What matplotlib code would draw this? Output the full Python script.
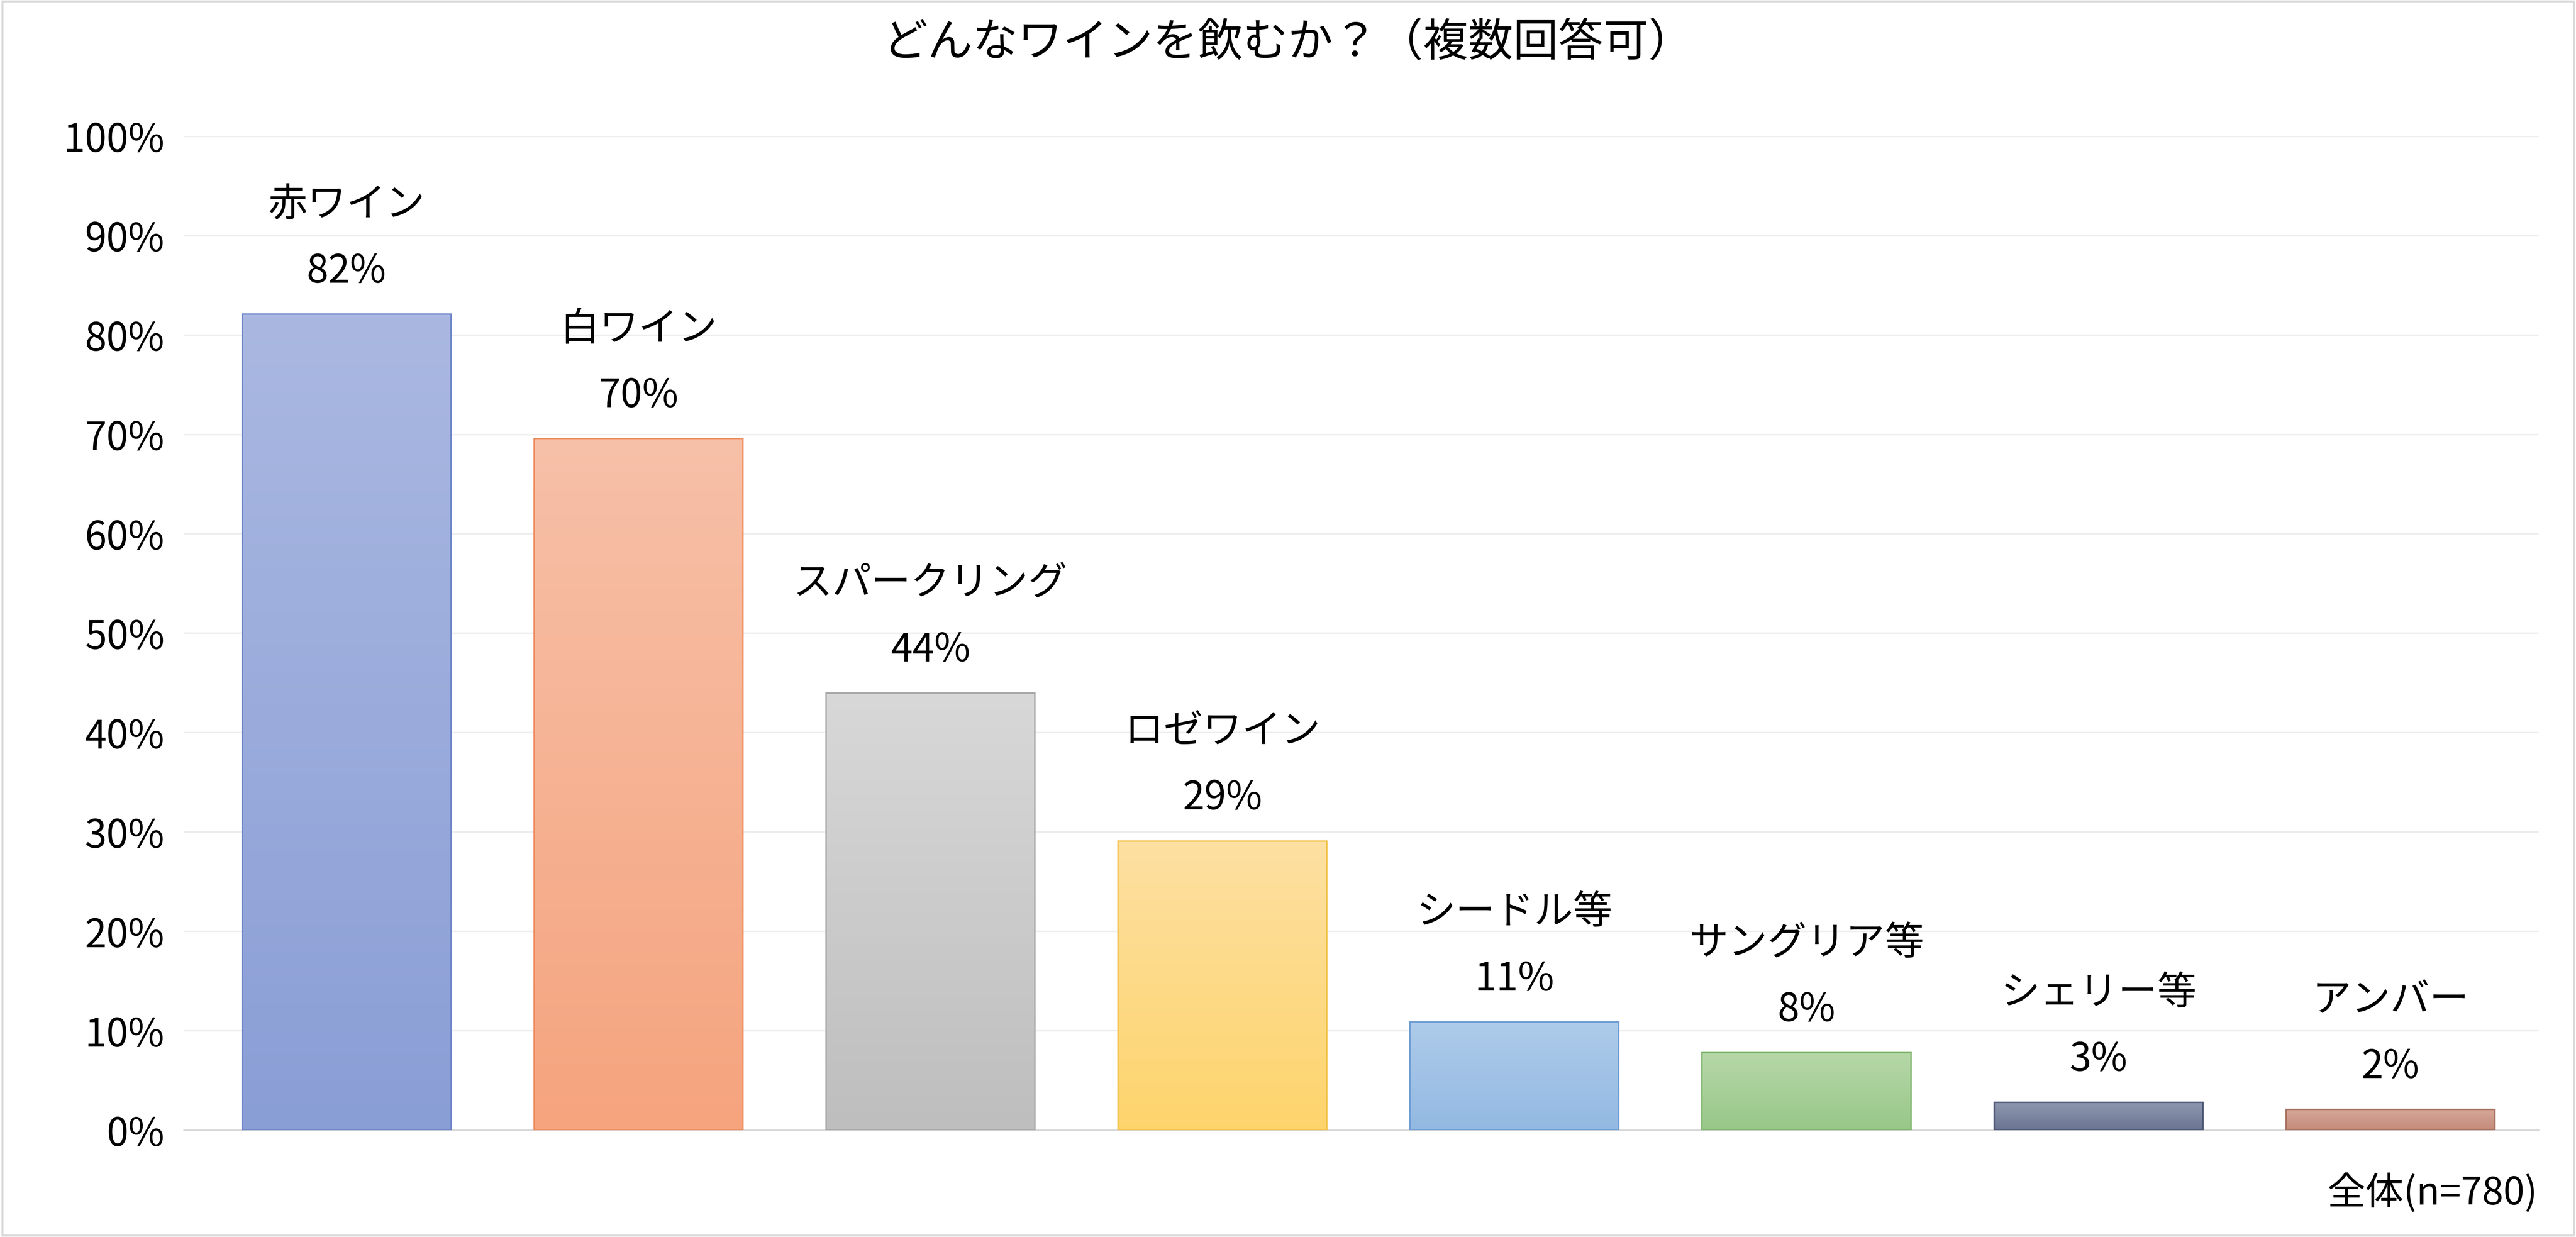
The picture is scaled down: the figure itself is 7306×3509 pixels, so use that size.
import numpy as np
import matplotlib
matplotlib.use("Agg")
import matplotlib.pyplot as plt
from matplotlib.colors import LinearSegmentedColormap

categories = ["赤ワイン", "白ワイン", "スパークリング", "ロゼワイン", "シードル等", "サングリア等", "シェリー等", "アンバー"]
values = [82.1, 69.6, 44.0, 29.1, 10.9, 7.8, 2.8, 2.1]
value_labels = ["82%", "70%", "44%", "29%", "11%", "8%", "3%", "2%"]
top_colors = ["#AAB8E1", "#F7C0A8", "#D8D8D8", "#FDE0A2", "#AECBEA", "#B6D7A8", "#8E97AE", "#D6A898"]
bot_colors = ["#8A9ED6", "#F5A47E", "#BEBEBE", "#FED46C", "#93B9E2", "#98C788", "#6A7592", "#C38A79"]
edge_colors = ["#6F86C9", "#EE8E62", "#A6A6A6", "#F2C24A", "#6E9ED3", "#7EB46C", "#4D5878", "#A8705F"]

font = "Noto Sans CJK JP"
plt.rcParams["font.family"] = font

fig = plt.figure(figsize=(73.07, 35.09), dpi=100)
ax = fig.add_axes([0.0714, 0.0863, 0.9139, 0.8035])
x = np.arange(len(categories))
w = 0.715
ax.set_xlim(-0.557, 7.507)
ax.set_ylim(0, 100)
grad = np.linspace(1, 0, 256).reshape(-1, 1)
for i, v in enumerate(values):
    cmap = LinearSegmentedColormap.from_list("g", [bot_colors[i], top_colors[i]])
    ax.imshow(grad, extent=[x[i]-w/2, x[i]+w/2, 0, v], aspect="auto", cmap=cmap, zorder=2, origin="upper")
    ax.bar(x[i], v, width=w, facecolor="none", edgecolor=edge_colors[i], linewidth=3, zorder=3)
    ax.text(x[i], v + 4.3, value_labels[i], ha="center", va="center", fontsize=80, zorder=4)
    ax.text(x[i], v + 11.0, categories[i], ha="center", va="center", fontsize=80, zorder=4)
ax.set_xlim(-0.557, 7.507)
ax.set_ylim(0, 100)
ax.set_yticks(np.arange(0, 101, 10))
ax.set_yticklabels([f"{t}%" for t in range(0, 101, 10)], fontsize=80)
ax.set_xticks([])
ax.grid(axis="y", color="#EDEDED", linewidth=3, zorder=0)
ax.set_axisbelow(True)
for s in ["top", "right", "left"]:
    ax.spines[s].set_visible(False)
ax.spines["bottom"].set_color("#D9D9D9")
ax.spines["bottom"].set_linewidth(3)
ax.tick_params(axis="y", length=0, pad=40)
fig.text(0.5, 0.965, "どんなワインを飲むか？（複数回答可）", ha="center", va="center", fontsize=92)
fig.text(0.985, 0.035, "全体(n=780)", ha="right", va="center", fontsize=78)
fig.patches.append(plt.Rectangle((0.001, 0.001), 0.998, 0.998, transform=fig.transFigure, fill=False, edgecolor="#D9D9D9", linewidth=4))
fig.savefig("out.png", dpi=100)
